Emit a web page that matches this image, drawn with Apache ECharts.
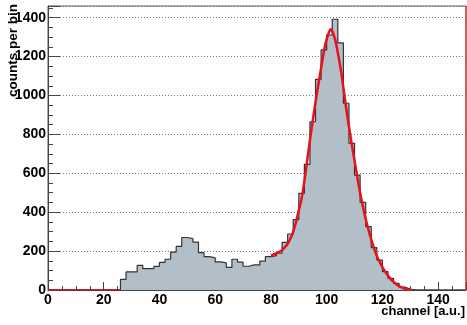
<!DOCTYPE html>
<html>
<head>
<meta charset="utf-8">
<script src="https://cdn.jsdelivr.net/npm/echarts@6/dist/echarts.min.js"></script>
<style>
  html, body { margin: 0; padding: 0; background: #ffffff; }
  #chart { width: 467px; height: 325px; }
</style>
</head>
<body>
<div id="chart"></div>
<script>
// Channel histogram: 75 bins of width 2 covering 0..150
const binStart = 0;
const binWidth = 2;
const counts = [
  0, 0, 0, 0, 0, 0, 0, 0, 0, 0, 0, 0, 0,
  55, 93, 93, 127, 110, 110, 121, 142, 158, 195,
  224, 270, 264, 246, 192, 172, 165, 145, 139, 116,
  158, 143, 122, 129, 129, 148, 172, 177, 189, 245,
  288, 362, 497, 646, 865, 1083, 1234, 1311, 1392, 1270,
  960, 754, 591, 450, 326, 218, 154, 94, 60, 34,
  15, 5,
  0, 0, 0, 0, 0, 0, 0, 0, 0, 0
];

// Fitted peak curve, sampled along the channel axis
const fitX = [80, 81, 82, 83, 84, 85, 86, 87, 88, 89, 90, 91, 92, 93, 94, 95, 96, 97, 98, 99, 100, 101, 101.5,
              102, 103, 104, 105, 106, 107, 108, 109, 110, 111, 112, 113, 114, 115, 116, 117, 118, 119, 120,
              121, 122, 123, 124, 125, 126, 127, 128, 129, 130];
const fitY = [178, 183, 189, 196, 205, 220, 238, 265, 300, 350, 410, 470, 560, 665, 770, 870, 965, 1055, 1140, 1225, 1290, 1330, 1340,
              1330, 1290, 1220, 1140, 1040, 935, 840, 750, 665, 580, 500, 430, 365, 310, 260, 215, 175, 145, 118,
              95, 74, 56, 42, 30, 20, 13, 7, 3, 0];

// Empty channel range before the first filled bin, traced in red on the baseline
const emptyRange = [0, 26];

// Axis ticks
const xTicks = [0, 20, 40, 60, 80, 100, 120, 140];
const yTicks = [0, 200, 400, 600, 800, 1000, 1200, 1400];
const xRange = [0, 150];
const yRange = [0, 1460];

const histPoints = counts.map((c, i) => [binStart + i * binWidth, c]);
histPoints.push([binStart + counts.length * binWidth, counts[counts.length - 1]]);
const fitPoints = fitX.map((x, i) => [x, fitY[i]]);

const font = '"Liberation Sans", Arial, Helvetica, sans-serif';
const chart = echarts.init(document.getElementById('chart'), null, { renderer: 'canvas' });

chart.setOption({
  animation: false,
  backgroundColor: '#ffffff',
  grid: {
    left: 48, right: 1, top: 6, bottom: 35,
    show: true, borderColor: '#555555', borderWidth: 1, backgroundColor: 'transparent'
  },
  xAxis: {
    type: 'value',
    min: xRange[0], max: xRange[1], interval: xTicks[1] - xTicks[0],
    axisLine: { show: true, onZero: false, lineStyle: { color: '#444444', width: 1 } },
    axisTick: { show: true, inside: true, length: 8, lineStyle: { color: '#444444' } },
    minorTick: { show: true, splitNumber: 4, length: 4, lineStyle: { color: '#444444' } },
    splitLine: { show: false },
    axisLabel: {
      show: true, showMaxLabel: false, margin: 3,
      color: '#000000', fontFamily: font, fontWeight: 'bold', fontSize: 14,
      formatter: v => (xTicks.includes(v) ? String(v) : '')
    }
  },
  yAxis: {
    type: 'value',
    min: yRange[0], max: yRange[1], interval: yTicks[1] - yTicks[0],
    axisLine: { show: true, lineStyle: { color: '#444444', width: 1 } },
    axisTick: { show: true, inside: true, length: 12, lineStyle: { color: '#444444' } },
    minorTick: { show: true, splitNumber: 4, length: 5, lineStyle: { color: '#444444' } },
    splitLine: { show: true, lineStyle: { color: '#777777', width: 1, type: [1, 2] } },
    axisLabel: {
      show: true, showMaxLabel: false, margin: 2,
      color: '#000000', fontFamily: font, fontWeight: 'bold', fontSize: 14,
      formatter: v => (yTicks.includes(v) ? String(v) : '')
    }
  },
  series: [
    {
      name: 'counts',
      type: 'line',
      data: histPoints,
      step: 'end',
      symbol: 'none',
      lineStyle: { color: '#333333', width: 1.2 },
      areaStyle: { color: '#b2bec8', opacity: 1 },
      z: 2
    },
    {
      name: 'empty',
      type: 'line',
      data: emptyRange.map(x => [x, 0]),
      symbol: 'none',
      lineStyle: { color: '#c81018', width: 1.5 },
      z: 3
    },
    {
      name: 'fit',
      type: 'line',
      data: fitPoints,
      smooth: true,
      symbol: 'none',
      lineStyle: { color: '#e8101a', width: 2.5 },
      z: 4
    },
    {
      name: 'edge',
      type: 'line',
      data: [[xRange[1], yRange[0]], [xRange[1], yRange[1]]],
      symbol: 'none',
      lineStyle: { color: '#d81a20', width: 1 },
      z: 3
    }
  ],
  graphic: [
    {
      type: 'text',
      x: 13, y: 4,
      rotation: Math.PI / 2,
      style: {
        text: 'counts per bin',
        font: 'bold 13.5px ' + font,
        fill: '#000000',
        align: 'right',
        verticalAlign: 'middle'
      },
      z: 10
    },
    {
      type: 'text',
      x: 465, y: 311,
      style: {
        text: 'channel [a.u.]',
        font: 'bold 13px ' + font,
        fill: '#000000',
        align: 'right',
        verticalAlign: 'middle'
      },
      z: 10
    }
  ]
});
</script>
</body>
</html>
